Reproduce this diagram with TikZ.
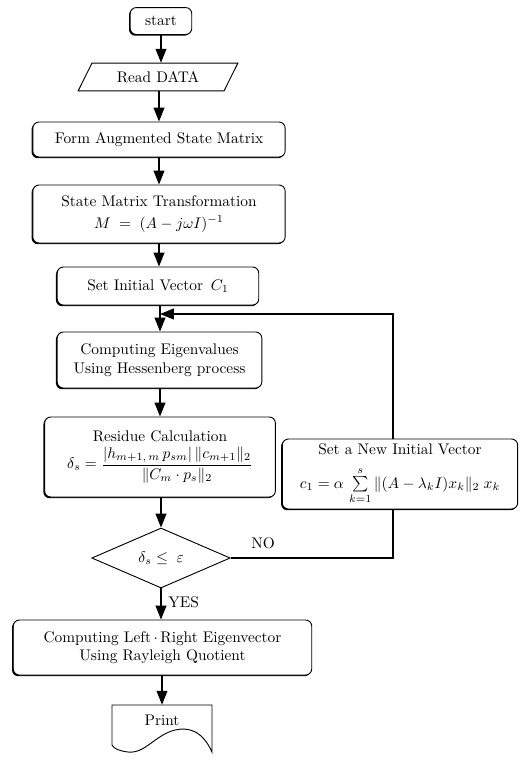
\documentclass[tikz,border=0pt]{standalone}
\usepackage{amsmath}
\usetikzlibrary{arrows.meta,shapes.geometric,shadows}

\begin{document}
\begin{tikzpicture}[x=0.65pt,y=-0.65pt,
    procbox/.style={shape=rectangle,draw=black,rounded corners=4pt,fill=white,align=center,line width=0.6pt,
      drop shadow={shadow xshift=-0.8pt,shadow yshift=-0.8pt,opacity=1,fill=black}},
    flow/.style={-{Triangle[length=9pt,width=7pt]},line width=0.9pt},
    plain/.style={line width=0.9pt}]
    \useasboundingbox (0,0) rectangle (523,761);

    \node[procbox,minimum width=40pt,minimum height=17.5pt] (start) at (161,21) {start};
    \node[shape=trapezium,trapezium left angle=66,trapezium right angle=114,trapezium stretches=true,
          draw=black,line width=0.6pt,minimum width=104pt,minimum height=18pt] (read) at (158,77) {Read DATA};
    \node[procbox,minimum width=164pt,minimum height=37.7pt] (trans) at (159,214)
        {State Matrix Transformation\\[2pt] $M \;=\; (A - j\omega I)^{-1}$};
    \node[procbox,minimum width=164pt,minimum height=22.75pt] (form) at (159,139.5) {Form Augmented State Matrix};
    \node[procbox,minimum width=131pt,minimum height=24.7pt] (init) at (158,286) {Set Initial Vector\enspace $C_1$};
    \node[procbox,minimum width=133pt,minimum height=36.4pt] (eigen) at (159.5,360)
        {Computing Eigenvalues\\ Using Hessenberg process};
    \node[procbox,minimum width=150pt,minimum height=52pt] (resid) at (160,457)
        {Residue Calculation\\[2pt]
         $\delta_s = \dfrac{|h_{m+1,\,m}\,p_{sm}|\,\|c_{m+1}\|_2}{\|C_m\cdot p_s\|_2}$};
    \node[procbox,minimum width=153pt,minimum height=44pt] (newvec) at (400,474)
        {Set a New Initial Vector\\[7pt]
         $c_1 = \alpha\,\sum\limits_{k=1}^{s}\|(A-\lambda_k I)x_k\|_2\;x_k$};
    \node[shape=diamond,draw=black,line width=0.6pt,inner sep=0pt,minimum width=90pt,minimum height=39pt] (test) at (161,558)
        {$\delta_s \le\; \varepsilon$};
    \node[procbox,minimum width=194pt,minimum height=35.75pt] (vector) at (162.5,647.5)
        {Computing Left\,$\cdot$\,Right Eigenvector\\ Using Rayleigh Quotient};
    \node[minimum width=65pt,minimum height=20pt,inner sep=0pt] (print) at (162,720.4) {Print};
    \draw[line width=0.6pt] (112,705) -- (212,705) -- (212,752)
        .. controls (202,730) and (188,727) .. (175,730)
        .. controls (155,735) and (145,754) .. (128,752)
        .. controls (120,751) and (114,749) .. (112,745) -- cycle;

    \coordinate (junc) at (160,314);
    \coordinate (loop) at (393,314);

    \draw[flow] (start) -- (start |- read.north);
    \draw[flow] (read.south -| form.north) -- (form);
    \draw[flow] (form) -- (trans);
    \draw[flow] (trans) -- (trans.south |- init.north);
    \draw[flow] (init.south -| junc) -- (junc |- eigen.north);
    \draw[flow] (eigen.south -| junc) -- (junc |- resid.north);
    \draw[flow] (resid.south -| test.north) -- (test);
    \draw[flow] (test) -- (test.south |- vector.north) node[pos=0.45,right=1pt] {YES};
    \draw[flow] (vector.south -| print.north) -- (print);
    \draw[flow] (newvec.north -| loop) -- (loop) -- (junc);
    \draw[plain] (test.east) -- (test.east -| loop) node[pos=0.2,above=2pt] {NO} -- (newvec.south -| loop);
\end{tikzpicture}
\end{document}
